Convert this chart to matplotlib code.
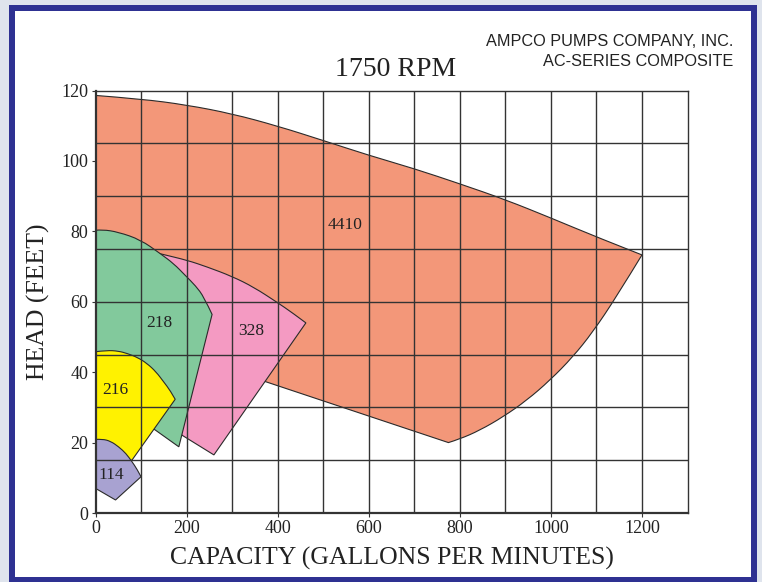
"""AMPCO AC-series composite pump curves at 1750 RPM."""

import matplotlib

matplotlib.use("Agg")
from matplotlib import font_manager
from matplotlib import pyplot as plt
from matplotlib.patches import PathPatch, Rectangle
from matplotlib.path import Path

# ------------------------------------------------------------------ #
#  Data (capacity in GPM, head in feet).
#  Each outline: curved stretches are smoothed, corner points are kept.
# ------------------------------------------------------------------ #
top_4410_x = [0, 100, 200, 300, 400, 500, 600, 700, 800, 900, 1000, 1100, 1200]
top_4410_y = [118.6, 117.6, 115.9, 113.4, 109.9, 105.8, 101.6, 97.8, 93.5, 89.0, 83.8, 78.4, 73.3]
end_4410_x = [1200, 1144, 1092, 1048, 998, 947, 895, 844, 800, 775]
end_4410_y = [73.3, 61.4, 51.4, 44.3, 37.7, 32.0, 27.3, 23.5, 21.0, 20.0]
low_4410_x = [450, 0]
low_4410_y = [34.0, 53.4]

top_328_x = [100, 149, 201, 245, 300, 348, 398, 432, 462]
top_328_y = [75.0, 73.4, 71.8, 69.9, 67.2, 64.1, 59.9, 56.9, 54.0]
low_328_x = [260, 190, 150]
low_328_y = [16.5, 22.1, 30.0]

top_218_x = [0, 15, 50, 99, 142, 172, 197, 220, 238, 256]
top_218_y = [80.3, 80.5, 79.8, 77.6, 73.7, 70.8, 67.5, 64.5, 61.4, 56.4]
low_218_x = [183, 132, 80, 0]
low_218_y = [18.8, 23.5, 28.0, 35.0]

top_216_x = [0, 25, 50, 70, 92, 113, 133, 150, 164, 175]
top_216_y = [45.8, 46.2, 46.0, 45.3, 44.2, 42.5, 40.1, 37.2, 34.8, 32.3]
low_216_x = [80, 40, 0]
low_216_y = [15.0, 15.0, 15.0]

top_114_x = [0, 15, 33, 51, 67, 80, 91, 100]
top_114_y = [20.9, 21.0, 20.4, 18.8, 16.9, 14.6, 12.5, 10.3]
low_114_x = [44, 0]
low_114_y = [3.7, 7.0]

pump_names = ["4410", "328", "218", "216", "114"]
label_x = [548, 342, 140, 44, 35]
label_y = [81.7, 51.6, 53.9, 34.9, 10.8]

x_ticks = [0, 200, 400, 600, 800, 1000, 1200]
y_ticks = [0, 20, 40, 60, 80, 100, 120]
x_grid = [100, 200, 300, 400, 500, 600, 700, 800, 900, 1000, 1100, 1200]
y_grid = [15, 30, 45, 60, 75, 90, 105]

FILLS = ["#f39779", "#f49ac2", "#82c99c", "#fff200", "#a8a2d1"]
SERIF = "Liberation Serif"


def narrow_family() -> str:
    try:
        font_manager.findfont("Liberation Sans Narrow", fallback_to_default=False)
        return "Liberation Sans Narrow"
    except ValueError:
        return "Liberation Sans"


def outline(pieces) -> Path:
    """pieces: list of (xs, ys, smooth). Smooth pieces become quadratic splines."""
    verts, codes = [], []
    for xs, ys, smooth in pieces:
        pts = list(zip(xs, ys))
        first = not verts
        verts.append(pts[0])
        codes.append(Path.MOVETO if first else Path.LINETO)
        if smooth and len(pts) > 2:
            for i in range(1, len(pts) - 1):
                nxt = pts[i + 1] if i == len(pts) - 2 else (
                    (pts[i][0] + pts[i + 1][0]) / 2, (pts[i][1] + pts[i + 1][1]) / 2)
                verts += [pts[i], nxt]
                codes += [Path.CURVE3, Path.CURVE3]
        else:
            for p in pts[1:]:
                verts.append(p)
                codes.append(Path.LINETO)
    verts.append(verts[0])
    codes.append(Path.CLOSEPOLY)
    return Path(verts, codes)


def main() -> None:
    W, H = 762, 582
    fig = plt.figure(figsize=(W / 100, H / 100), dpi=100, facecolor="#dfe4ed")

    # blue frame with white inside (behind the axes)
    fig.patches.append(Rectangle((9 / W, 0), (757 - 9) / W, (582 - 5) / H,
                                 transform=fig.transFigure, facecolor="#2e3192",
                                 edgecolor="none", zorder=-2))
    fig.patches.append(Rectangle((15 / W, 5 / H), (751 - 15) / W, (577 - 11) / H,
                                 transform=fig.transFigure, facecolor="white",
                                 edgecolor="none", zorder=-1))

    left, right, top, bottom = 95.5, 687.5, 90.5, 513
    ax = fig.add_axes([left / W, (H - bottom) / H, (right - left) / W, (bottom - top) / H])
    ax.set_facecolor("none")
    ax.set_xlim(0, 1300)
    ax.set_ylim(0, 120)

    # ------------------------------------------------------------------ #
    #  Pump regions (drawn largest first)
    # ------------------------------------------------------------------ #
    shapes = [
        [(top_4410_x, top_4410_y, True), (end_4410_x, end_4410_y, True),
         (low_4410_x, low_4410_y, False)],
        [(top_328_x, top_328_y, True), (low_328_x, low_328_y, False)],
        [(top_218_x, top_218_y, True), (low_218_x, low_218_y, False)],
        [(top_216_x, top_216_y, True), (low_216_x, low_216_y, False)],
        [(top_114_x, top_114_y, True), (low_114_x, low_114_y, False)],
    ]
    for i, (pieces, color) in enumerate(zip(shapes, FILLS)):
        ax.add_patch(PathPatch(outline(pieces), facecolor=color, edgecolor="#2a2a2a",
                               linewidth=0.8, zorder=1 + i * 0.1))

    for name, lx, ly in zip(pump_names, label_x, label_y):
        ax.text(lx, ly, name, ha="center", va="center", fontsize=12.5,
                family=SERIF, color="#222222", zorder=4)

    # grid on top of the fills
    ax.vlines(x_grid, 0, 120, colors="#333333", linewidth=1.0, zorder=3)
    ax.hlines(y_grid, 0, 1300, colors="#333333", linewidth=1.0, zorder=3)

    for side in ["top", "right"]:
        ax.spines[side].set_linewidth(1.0)
    for side in ["left", "bottom"]:
        ax.spines[side].set_linewidth(1.6)
    for sp in ax.spines.values():
        sp.set_color("#333333")
        sp.set_zorder(5)

    ax.set_xticks(x_ticks)
    ax.set_yticks(y_ticks)
    ax.tick_params(length=3, width=0.8, color="#333333", pad=2, labelsize=13,
                   labelcolor="#222222")
    for lab in ax.get_xticklabels() + ax.get_yticklabels():
        lab.set_family(SERIF)

    ax.set_xlabel("CAPACITY (GALLONS PER MINUTES)", family=SERIF, fontsize=18.5,
                  color="#222222", labelpad=7)
    ax.set_ylabel("HEAD (FEET)", family=SERIF, fontsize=18.5, color="#222222",
                  labelpad=8)

    # ------------------------------------------------------------------ #
    #  Titles
    # ------------------------------------------------------------------ #
    fig.text(396 / W, 1 - 69 / H, "1750 RPM", ha="center", va="center",
             family=SERIF, fontsize=20, color="#222222")
    narrow = narrow_family()
    size = 14 if narrow.endswith("Narrow") else 11.7
    fig.text(733 / W, 1 - 42 / H, "AMPCO PUMPS COMPANY, INC.", ha="right",
             va="center", family=narrow, fontsize=size, color="#222222")
    fig.text(733 / W, 1 - 62 / H, "AC-SERIES COMPOSITE", ha="right",
             va="center", family=narrow, fontsize=size, color="#222222")

    fig.savefig("out.png", dpi=100, facecolor=fig.get_facecolor())


if __name__ == "__main__":
    main()
